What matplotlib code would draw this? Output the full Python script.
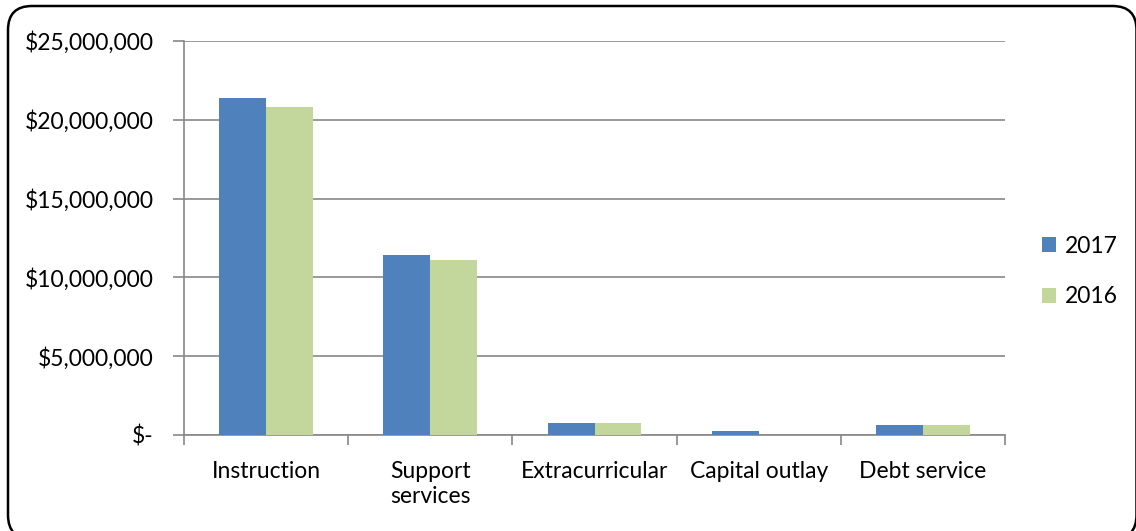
import numpy as np
import matplotlib.pyplot as plt
from matplotlib.patches import FancyBboxPatch
from matplotlib.ticker import FuncFormatter

plt.rcParams['font.family'] = ['Lato', 'DejaVu Sans']

categories = ["Instruction", "Support\nservices", "Extracurricular", "Capital outlay", "Debt service"]
v2017 = [21380000, 11420000, 760000, 250000, 630000]
v2016 = [20830000, 11100000, 760000, 0, 630000]

fig = plt.figure(figsize=(11.36, 5.31), dpi=100)
ax = fig.add_axes([184/1136, 1 - 435/531, (1005-184)/1136, (435-41)/531])

x = np.arange(len(categories))
w = 0.286
ax.bar(x - w/2, v2017, w, color="#4F81BD", label="2017", zorder=3)
ax.bar(x + w/2, v2016, w, color="#C3D69B", label="2016", zorder=3)

ax.set_xlim(-0.5, len(categories) - 0.5)
ax.set_ylim(0, 25000000)
ax.set_yticks(np.arange(0, 25000001, 5000000))
ax.yaxis.set_major_formatter(FuncFormatter(lambda v, p: "$-" if v == 0 else "${:,.0f}".format(v)))
ax.grid(axis="y", color="#888888", linewidth=1.2, zorder=0)

# ticks between categories
ax.set_xticks(np.arange(-0.5, len(categories)))
ax.set_xticklabels([])
ax.tick_params(axis="x", length=7, color="#888888", width=1.2)
ax.tick_params(axis="y", length=8, color="#888888", width=1.2, labelsize=16.5, pad=14)
for i, c in enumerate(categories):
    ax.text(i, -0.065, c, transform=ax.get_xaxis_transform(), ha="center", va="top",
            multialignment="left", fontsize=16.5, linespacing=1.28)

for s in ["top", "right"]:
    ax.spines[s].set_visible(False)
for s in ["left", "bottom"]:
    ax.spines[s].set_color("#888888")
    ax.spines[s].set_linewidth(1.2)

ax.legend(loc="center left", bbox_to_anchor=(1.02, 0.415), frameon=False, fontsize=16.5,
          handlelength=0.6, handleheight=0.6, handletextpad=0.4, labelspacing=1.3)

# rounded frame around the chart
border = FancyBboxPatch((0.08, -0.08), 11.285, 5.33, boxstyle="round,pad=0,rounding_size=0.24",
                        transform=fig.dpi_scale_trans, fill=False, edgecolor="black", linewidth=1.8)
fig.patches.append(border)

fig.savefig("out.png", dpi=100)
